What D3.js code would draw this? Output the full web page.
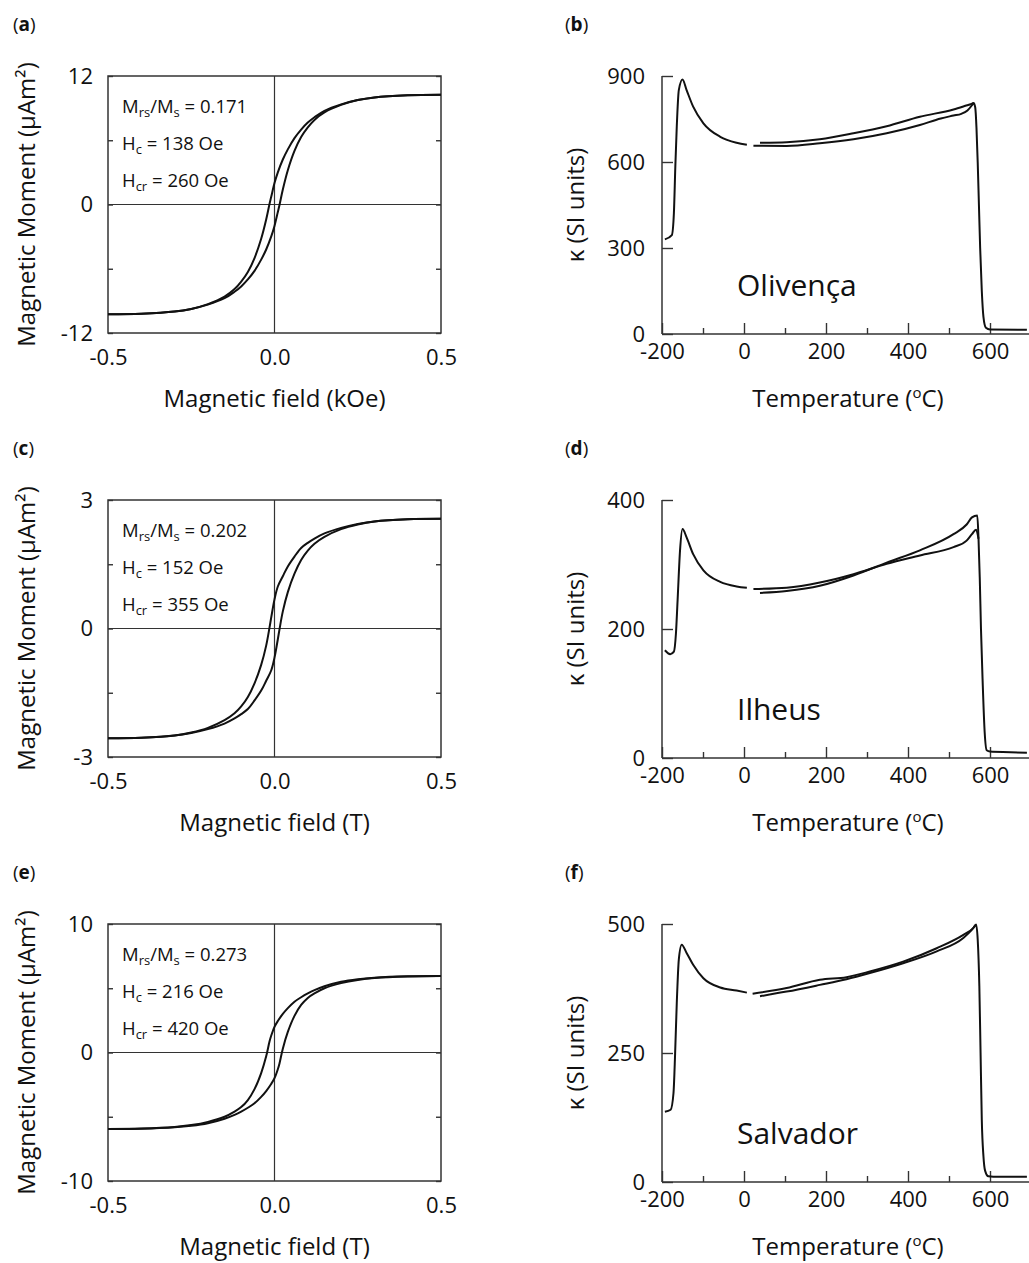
<!DOCTYPE html>
<html>
<head>
  <meta charset="utf-8">
  <script src="https://d3js.org/d3.v7.min.js"></script>
  <title>Hysteresis and susceptibility</title>
  <style>
    body { margin: 0; background: #fff; }
    svg { display: block; font-family: "Open Sans", sans-serif; }
    .axis .domain { display: none; }
    .axis text { font-size: 22px; fill: #111; font-family: "Open Sans", sans-serif; }
    .axis line { stroke: #333; stroke-width: 1.4; }
    .curve { fill: none; stroke: #111; stroke-width: 2; }
    .frame { fill: none; stroke: #333; stroke-width: 1.5; }
    .zero { stroke: #333; stroke-width: 1.2; }
    .title { font-size: 24px; fill: #111; }
    .note { font-size: 18.5px; fill: #111; }
    .site { font-size: 30px; fill: #111; }
    .plabel { font-size: 19px; fill: #111; }
  </style>
</head>
<body>
<svg width="1029" height="1263"></svg>
<script>
// hysteresis loops: field (T) and moment (uAm2)
var fieldDown = [0.5, 0.4, 0.3, 0.25, 0.2, 0.15, 0.12, 0.1, 0.08, 0.06, 0.04, 0.025, 0.01, 0,
                 -0.01, -0.015, -0.025, -0.04, -0.06, -0.08, -0.1, -0.12, -0.15, -0.2, -0.25, -0.3, -0.4, -0.5];
var fieldUp = [-0.5, -0.4, -0.3, -0.25, -0.2, -0.15, -0.12, -0.1, -0.08, -0.06, -0.04, -0.025, -0.01, 0,
               0.01, 0.015, 0.025, 0.04, 0.06, 0.08, 0.1, 0.12, 0.15, 0.2, 0.25, 0.3, 0.4, 0.5];

var momentDownA = [10.25, 10.2, 10.0, 9.75, 9.35, 8.75, 8.15, 7.65, 7.0, 6.2, 5.15, 4.2, 3.0, 2.0,
                   0.7, 0.05, -1.4, -3.2, -5.0, -6.3, -7.2, -7.9, -8.6, -9.3, -9.75, -10.0, -10.2, -10.25];
var momentUpA = [-10.25, -10.2, -10.0, -9.75, -9.35, -8.75, -8.15, -7.65, -7.0, -6.2, -5.15, -4.2, -3.0, -2.0,
                 -0.7, -0.05, 1.4, 3.2, 5.0, 6.3, 7.2, 7.9, 8.6, 9.3, 9.75, 10.0, 10.2, 10.25];

var momentDownC = [2.56, 2.55, 2.5, 2.44, 2.35, 2.22, 2.1, 2.0, 1.88, 1.68, 1.45, 1.22, 0.98, 0.68,
                   0.25, 0.02, -0.4, -0.85, -1.28, -1.6, -1.82, -1.98, -2.14, -2.32, -2.43, -2.5, -2.55, -2.56];
var momentUpC = [-2.56, -2.55, -2.5, -2.44, -2.35, -2.22, -2.1, -2.0, -1.88, -1.68, -1.45, -1.22, -0.98, -0.68,
                 -0.25, -0.02, 0.4, 0.85, 1.28, 1.6, 1.82, 1.98, 2.14, 2.32, 2.43, 2.5, 2.55, 2.56];

var momentDownE = [5.95, 5.93, 5.82, 5.7, 5.5, 5.15, 4.85, 4.6, 4.3, 3.95, 3.45, 3.0, 2.45, 2.0,
                   1.3, 0.85, -0.3, -1.6, -2.85, -3.7, -4.25, -4.6, -5.0, -5.4, -5.65, -5.8, -5.92, -5.95];
var momentUpE = [-5.95, -5.93, -5.82, -5.7, -5.5, -5.15, -4.85, -4.6, -4.3, -3.95, -3.45, -3.0, -2.45, -2.0,
                 -1.3, -0.85, 0.3, 1.6, 2.85, 3.7, 4.25, 4.6, 5.0, 5.4, 5.65, 5.8, 5.92, 5.95];

// susceptibility vs temperature: [T (oC), kappa]
var olivencaLow = [[-193, 330], [-176, 345], [-171, 421], [-167.5, 584], [-164, 723], [-159, 851], [-150, 888],
                   [-140, 851], [-124, 793], [-99, 735], [-58, 688], [-18, 667], [7, 660]];
var olivencaHeat = [[23, 657], [104, 656], [185, 665], [267, 679], [348, 700], [429, 729], [480, 752], [511, 762],
                    [530, 768], [545, 780], [556, 798], [560, 806], [564, 790], [567, 720], [570, 600], [573, 450],
                    [576, 300], [580, 150], [584, 60], [590, 22], [600, 16], [690, 15]];
var olivencaCool = [[39, 667], [104, 669], [185, 679], [267, 700], [348, 725], [429, 758], [511, 783],
                    [540, 796], [555, 803], [560, 806]];

var ilheusLow = [[-193, 167], [-180, 161], [-171, 165], [-166, 193], [-162, 244], [-156, 322], [-150, 355],
                 [-140, 342], [-124, 316], [-99, 291], [-58, 273], [-18, 266], [7, 264]];
var ilheusHeat = [[23, 262], [104, 264], [185, 272], [267, 285], [348, 301], [429, 314], [511, 327],
                  [543, 337], [556, 347], [566, 354], [572, 340]];
var ilheusCool = [[39, 256], [104, 259], [185, 267], [267, 283], [348, 303], [429, 322], [511, 347], [543, 362],
                  [556, 373], [569, 376], [572, 340], [575, 280], [578, 200], [582, 120], [587, 40], [592, 12],
                  [600, 10], [650, 9], [690, 8]];

var salvadorLow = [[-193, 136], [-179, 140], [-172, 172], [-168, 249], [-164, 346], [-159, 431], [-152, 460],
                   [-140, 444], [-124, 421], [-99, 395], [-58, 377], [-18, 371], [7, 367]];
var salvadorHeat = [[21, 365], [104, 376], [185, 392], [250, 397], [307, 408], [388, 427], [470, 453],
                    [535, 479], [559, 492], [566, 499], [570, 470], [574, 380], [577, 250], [580, 120],
                    [584, 50], [588, 22], [596, 11], [620, 10], [690, 10]];
var salvadorCool = [[39, 360], [104, 369], [185, 382], [250, 393], [307, 405], [388, 424], [470, 447],
                    [535, 473], [555, 488], [566, 499]];

var svg = d3.select("svg");

function panelLabel(x, top, letter) {
  var t = svg.append("text").attr("class", "plabel").attr("x", x).attr("y", top - 45.5);
  t.append("tspan").text("(");
  t.append("tspan").attr("font-weight", "bold").text(letter);
  t.append("tspan").text(")");
}

function loopPanel(row, yMax, down, up, letter, fieldTitle, notes) {
  var top = 76 + 424 * row, bottom = top + 257;
  var x = d3.scaleLinear().domain([-0.5, 0.5]).range([108, 441]);
  var y = d3.scaleLinear().domain([-yMax, yMax]).range([bottom, top]);
  var ticks = [-yMax, -yMax / 2, 0, yMax / 2, yMax];
  var g = svg.append("g");

  g.append("line").attr("class", "zero")
    .attr("x1", x(0)).attr("x2", x(0)).attr("y1", top).attr("y2", bottom);
  g.append("line").attr("class", "zero")
    .attr("x1", x(-0.5)).attr("x2", x(0.5)).attr("y1", y(0)).attr("y2", y(0));

  g.append("g").attr("class", "axis").attr("transform", "translate(" + x(-0.5) + ",0)")
    .call(d3.axisLeft(y).tickValues(ticks).tickSize(-5).tickPadding(15)
      .tickFormat(function(d) { return Math.abs(d) === yMax / 2 ? "" : d; }));
  g.append("g").attr("class", "axis").attr("transform", "translate(" + x(0.5) + ",0)")
    .call(d3.axisRight(y).tickValues(ticks).tickSize(-5).tickFormat(""));
  g.append("g").attr("class", "axis").attr("transform", "translate(0," + bottom + ")")
    .call(d3.axisBottom(x).tickValues([-0.5, 0, 0.5]).tickSize(0).tickPadding(16)
      .tickFormat(function(d) { return d.toFixed(1); }));

  g.append("rect").attr("class", "frame")
    .attr("x", x(-0.5)).attr("y", top).attr("width", x(0.5) - x(-0.5)).attr("height", bottom - top);

  var line = d3.line().curve(d3.curveCatmullRom.alpha(0.5));
  g.append("path").attr("class", "curve")
    .attr("d", line(fieldDown.map(function(h, i) { return [x(h), y(down[i])]; })));
  g.append("path").attr("class", "curve")
    .attr("d", line(fieldUp.map(function(h, i) { return [x(h), y(up[i])]; })));

  // annotations
  var n1 = g.append("text").attr("class", "note").attr("x", 122).attr("y", top + 37);
  n1.append("tspan").text("M");
  n1.append("tspan").attr("font-size", 13).attr("dy", 4).text("rs");
  n1.append("tspan").attr("dy", -4).text("/M");
  n1.append("tspan").attr("font-size", 13).attr("dy", 4).text("s");
  n1.append("tspan").attr("dy", -4).text(" = " + notes[0]);
  var n2 = g.append("text").attr("class", "note").attr("x", 122).attr("y", top + 74);
  n2.append("tspan").text("H");
  n2.append("tspan").attr("font-size", 13).attr("dy", 4).text("c");
  n2.append("tspan").attr("dy", -4).text(" = " + notes[1] + " Oe");
  var n3 = g.append("text").attr("class", "note").attr("x", 122).attr("y", top + 111);
  n3.append("tspan").text("H");
  n3.append("tspan").attr("font-size", 13).attr("dy", 4).text("cr");
  n3.append("tspan").attr("dy", -4).text(" = " + notes[2] + " Oe");

  // axis titles
  g.append("text").attr("class", "title").attr("text-anchor", "middle")
    .attr("x", (x(-0.5) + x(0.5)) / 2).attr("y", top + 331).text(fieldTitle);
  var yt = g.append("text").attr("class", "title").attr("text-anchor", "middle")
    .attr("transform", "translate(35," + (top + bottom) / 2 + ") rotate(-90)");
  yt.text("Magnetic Moment (\u00b5Am\u00b2)");

  panelLabel(13, top, letter);
}

function kappaPanel(row, yTicks, low, heat, cool, letter, site) {
  var top = 76 + 424 * row, bottom = top + 258;
  var yMax = yTicks[yTicks.length - 1];
  var x = d3.scaleLinear().domain([-200, 700]).range([662, 1031]);
  var y = d3.scaleLinear().domain([0, yMax]).range([bottom, top]);
  var g = svg.append("g");

  g.append("line").attr("class", "frame")
    .attr("x1", x(-200)).attr("x2", x(-200)).attr("y1", y(0)).attr("y2", y(yMax));
  g.append("line").attr("class", "frame")
    .attr("x1", x(-200)).attr("x2", x(700)).attr("y1", y(0)).attr("y2", y(0));

  g.append("g").attr("class", "axis").attr("transform", "translate(" + x(-200) + ",0)")
    .call(d3.axisLeft(y).tickValues(yTicks).tickSize(-11).tickPadding(17).tickFormat(String));
  g.append("g").attr("class", "axis").attr("transform", "translate(0," + y(0) + ")")
    .call(d3.axisBottom(x).tickValues([-200, 0, 200, 400, 600]).tickSize(-11).tickPadding(9).tickFormat(String));
  g.append("g").attr("class", "axis").attr("transform", "translate(0," + y(0) + ")")
    .call(d3.axisBottom(x).tickValues([-100, 100, 300, 500]).tickSize(-6).tickFormat(""));

  var line = d3.line()
    .x(function(d) { return x(d[0]); })
    .y(function(d) { return y(d[1]); })
    .curve(d3.curveMonotoneX);
  [low, heat, cool].forEach(function(s) {
    g.append("path").attr("class", "curve").attr("d", line(s));
  });

  g.append("text").attr("class", "site").attr("x", 737).attr("y", top + 220).text(site);

  var xt = g.append("text").attr("class", "title").attr("text-anchor", "middle")
    .attr("x", 848).attr("y", top + 331);
  xt.append("tspan").text("Temperature (");
  xt.append("tspan").attr("font-size", 15).attr("dy", -9).text("o");
  xt.append("tspan").attr("dy", 9).text("C)");
  g.append("text").attr("class", "title").attr("text-anchor", "middle")
    .attr("transform", "translate(584," + (top + bottom) / 2 + ") rotate(-90)")
    .text("\u03ba (SI units)");

  panelLabel(565, top, letter);
}

loopPanel(0, 12, momentDownA, momentUpA, "a", "Magnetic field (kOe)", ["0.171", "138", "260"]);
loopPanel(1, 3, momentDownC, momentUpC, "c", "Magnetic field (T)", ["0.202", "152", "355"]);
loopPanel(2, 10, momentDownE, momentUpE, "e", "Magnetic field (T)", ["0.273", "216", "420"]);

kappaPanel(0, [0, 300, 600, 900], olivencaLow, olivencaHeat, olivencaCool, "b", "Olivença");
kappaPanel(1, [0, 200, 400], ilheusLow, ilheusHeat, ilheusCool, "d", "Ilheus");
kappaPanel(2, [0, 250, 500], salvadorLow, salvadorHeat, salvadorCool, "f", "Salvador");
</script>
</body>
</html>
